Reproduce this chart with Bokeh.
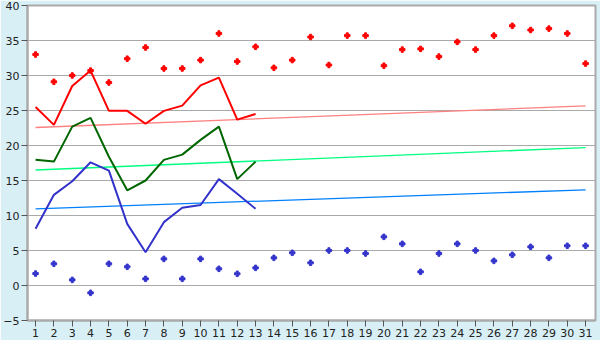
from bokeh.plotting import figure
from bokeh.models import Range1d, FixedTicker
from bokeh.embed import file_html
from bokeh.resources import INLINE

days = list(range(1, 32))
max_pts = [33.0, 29.1, 30.0, 30.7, 29.0, 32.4, 34.0, 31.0, 31.0, 32.2, 36.0, 32.0, 34.1,
           31.1, 32.2, 35.5, 31.5, 35.7, 35.7, 31.4, 33.7, 33.8, 32.7, 34.8, 33.7, 35.7,
           37.1, 36.5, 36.7, 36.0, 31.7]
min_pts = [1.7, 3.1, 0.8, -1.05, 3.1, 2.67, 0.95, 3.8, 0.95, 3.8, 2.38, 1.67, 2.52,
           3.95, 4.67, 3.24, 5.0, 5.0, 4.57, 6.95, 5.95, 1.95, 4.57, 5.95, 5.0, 3.52,
           4.38, 5.52, 3.95, 5.67, 5.67]
line_days = list(range(1, 14))
red_line = [25.5, 22.95, 28.5, 30.7, 24.95, 24.95, 23.1, 24.95, 25.7, 28.6, 29.7, 23.7, 24.5]
green_line = [17.95, 17.7, 22.7, 23.95, 18.4, 13.6, 15.0, 17.95, 18.7, 20.8, 22.7, 15.2, 17.7]
blue_line = [8.1, 12.95, 14.9, 17.6, 16.4, 8.8, 4.76, 9.05, 11.1, 11.5, 15.2, 13.1, 10.95]
trend_x = [1, 31]
red_trend = [22.57, 25.67]
green_trend = [16.5, 19.7]
blue_trend = [10.95, 13.67]

p = figure(width=600, height=340, output_backend="svg", toolbar_location=None,
           x_range=Range1d(0.56, 31.54), y_range=Range1d(-5, 40),
           min_border_left=21, min_border_right=5, min_border_top=5, min_border_bottom=20)
p.background_fill_color = "white"
p.border_fill_color = "#d9eff6"
p.outline_line_color = "#aaaaaa"
p.outline_line_width = 2

p.xgrid.grid_line_color = None
p.ygrid.grid_line_color = "#aaaaaa"
p.ygrid.grid_line_width = 1

for ax in (p.xaxis[0], p.yaxis[0]):
    ax.axis_line_color = "#aaaaaa"
    ax.axis_line_width = 2
    ax.major_tick_line_color = "#555555"
    ax.minor_tick_line_color = None
    ax.major_label_text_font = "DejaVu Sans"
    ax.major_label_text_font_size = "11px"
    ax.major_label_text_color = "#222222"
    ax.major_tick_in = 0

p.xaxis.ticker = FixedTicker(ticks=days)
p.xaxis.major_tick_out = 6
p.xaxis.major_label_standoff = 2
p.yaxis.ticker = FixedTicker(ticks=list(range(-5, 41, 5)))
p.yaxis.major_tick_out = 6
p.yaxis.major_label_standoff = 2

p.line(trend_x, red_trend, line_color="#ff8080", line_width=1.3)
p.line(trend_x, green_trend, line_color="#00ff80", line_width=1.3)
p.line(trend_x, blue_trend, line_color="#0080ff", line_width=1.3)

p.line(line_days, red_line, line_color="#ff0000", line_width=2)
p.line(line_days, green_line, line_color="#006600", line_width=2)
p.line(line_days, blue_line, line_color="#3333cc", line_width=2)

p.scatter(days, max_pts, marker="plus", size=5.5, color="#ff0000")
p.scatter(days, min_pts, marker="plus", size=5.5, color="#3333cc")

open("out.html", "w").write(file_html(p, INLINE))
